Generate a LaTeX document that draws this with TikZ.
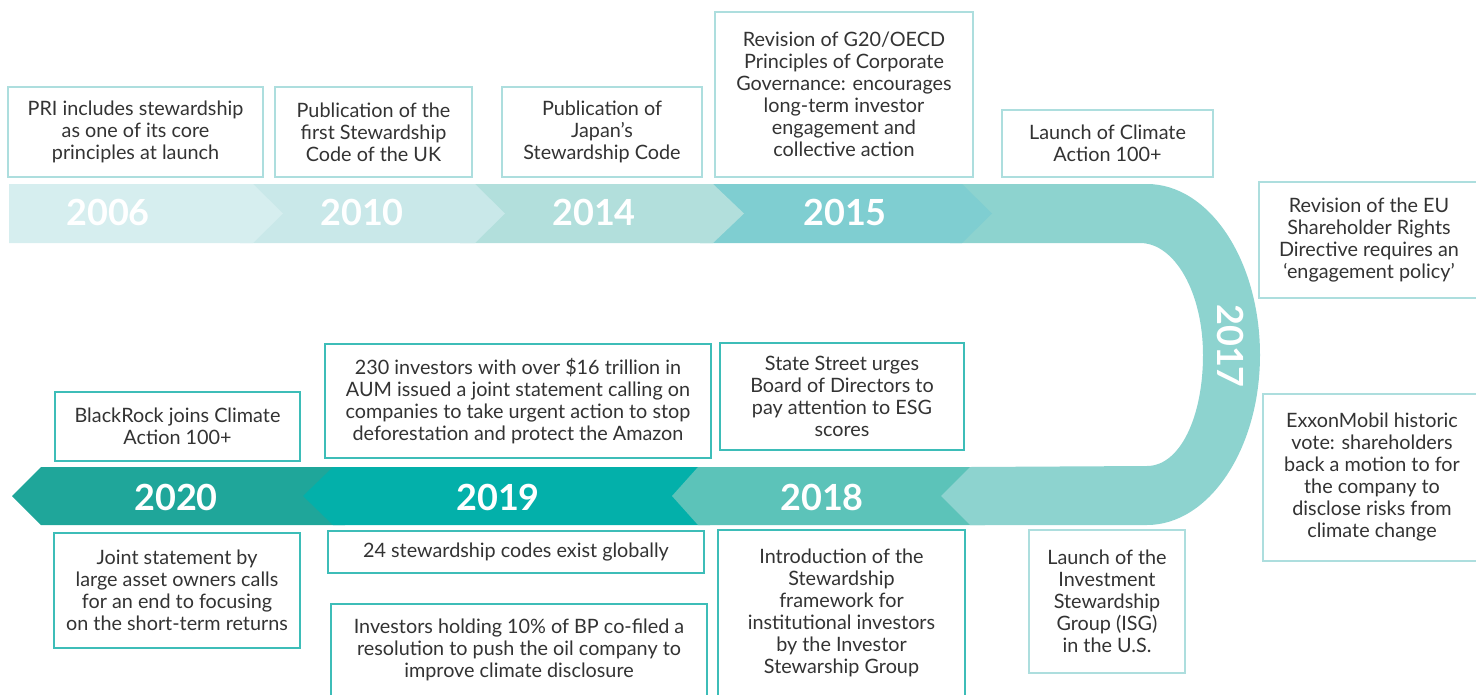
\documentclass[tikz,border=0pt]{standalone}
\usepackage{fontspec}
\setmainfont{Lato}

\definecolor{yrsix}{HTML}{D6EEEF}
\definecolor{yrten}{HTML}{C9E8E9}
\definecolor{yrfourteen}{HTML}{B2DFDC}
\definecolor{yrfifteen}{HTML}{7FCED1}
\definecolor{yrseventeen}{HTML}{8DD3CF}
\definecolor{yreighteen}{HTML}{5CC3B9}
\definecolor{yrnineteen}{HTML}{03B0AA}
\definecolor{yrtwenty}{HTML}{1FA69A}
\definecolor{boxlight}{HTML}{ADDEDE}
\definecolor{boxteal}{HTML}{3DBDB8}
\definecolor{txtgray}{HTML}{333333}

\tikzset{
  event/.style={draw=boxlight, line width=1.3pt, fill=white, align=center, inner sep=0pt,
    text=txtgray, font=\fontsize{19.8}{22}\selectfont},
  eventdark/.style={event, draw=boxteal},
  year/.style={text=white, font=\fontsize{36}{40}\selectfont\bfseries},
}

\begin{document}
\begin{tikzpicture}[x=1pt,y=-1pt]
\useasboundingbox (0,0) rectangle (1476,694);
\clip (0,0) rectangle (1476,694);

% bottom row, arrows point left
\fill[yrtwenty] (12,496) -- (41,467) -- (345,467) -- (345,525) -- (41,525) -- cycle;
\fill[yrnineteen] (303,496) -- (333,467) -- (710,467) -- (710,525) -- (333,525) -- cycle;
\fill[yreighteen] (672,496) -- (698,467) -- (985,467) -- (985,525) -- (698,525) -- cycle;

% the bend (2017)
\fill[yrseventeen] (950,184) -- (1147,184)
  .. controls (1209,184) and (1260,260) .. (1260,355)
  .. controls (1260,449) and (1209,525) .. (1147,525)
  -- (970,525) -- (941,496) -- (970,467) -- (1147,466)
  .. controls (1180,466) and (1203,417) .. (1203,355)
  .. controls (1203,293) and (1175,243) .. (1140,243)
  -- (950,243) -- cycle;

% top row, arrows point right
\fill[yrfifteen] (700,184) -- (962,184) -- (992,213.5) -- (962,243) -- (700,243) -- cycle;
\fill[yrfourteen] (460,184) -- (713,184) -- (744,213.5) -- (713,243) -- (460,243) -- cycle;
\fill[yrten] (240,184) -- (475,184) -- (505,213.5) -- (475,243) -- (240,243) -- cycle;
\fill[yrsix] (9,184) -- (253,184) -- (283,213.5) -- (253,243) -- (9,243) -- cycle;

% years
\node[year] (y2006) at (108,212) {2006};
\node[year] (y2010) at (362,212) {2010};
\node[year] (y2014) at (594,212) {2014};
\node[year] (y2015) at (845,212) {2015};
\node[year, rotate=-90] (y2017) at (1231,346) {2017};
\node[year] (y2018) at (822,497) {2018};
\node[year] (y2019) at (498,497) {2019};
\node[year] (y2020) at (176,497) {2020};

% events above the top row
\node[event, minimum width=255pt, minimum height=90pt] (pri) at (135.5,132)
  {PRI includes stewardship\\as one of its core\\principles at launch};
\node[event, minimum width=197pt, minimum height=90pt] (ukcode) at (373.5,132)
  {Publication of the\\first Stewardship\\Code of the UK};
\node[event, minimum width=200pt, minimum height=90pt] (japan) at (602,132)
  {Publication of\\Japan’s\\Stewardship Code};
\node[event, minimum width=258pt, minimum height=165pt] (gtwenty) at (844,94.5)
  {Revision of G20/OECD\\Principles of Corporate\\Governance: encourages\\long-term investor\\engagement and\\collective action};
\node[event, minimum width=211pt, minimum height=67pt] (launchca) at (1107.5,143.5)
  {Launch of Climate\\Action 100+};

% events beside the bend
\node[event, minimum width=220pt, minimum height=116pt] (eusrd) at (1369,240)
  {Revision of the EU\\Shareholder Rights\\Directive requires an\\‘engagement policy’};
\node[event, minimum width=218pt, minimum height=167pt] (exxon) at (1372,477.5)
  {ExxonMobil historic\\vote: shareholders\\back a motion to for\\the company to\\disclose risks from\\climate change};
\node[event, minimum width=156pt, minimum height=143pt] (isg) at (1107,601.5)
  {Launch of the\\Investment\\Stewardship\\Group (ISG)\\in the U.S.};

% events above the bottom row
\node[eventdark, minimum width=245pt, minimum height=69pt] (blackrock) at (177.5,426.5)
  {BlackRock joins Climate\\Action 100+};
\node[eventdark, minimum width=386pt, minimum height=114pt] (amazon) at (518,401)
  {230 investors with over \$16 trillion in\\AUM issued a joint statement calling on\\companies to take urgent action to stop\\deforestation and protect the Amazon};
\node[eventdark, minimum width=244pt, minimum height=107pt] (statest) at (842,396.5)
  {State Street urges\\Board of Directors to\\pay attention to ESG\\scores};

% events below the bottom row
\node[eventdark, minimum width=246pt, minimum height=115pt] (jointst) at (177,590.5)
  {Joint statement by\\large asset owners calls\\for an end to focusing\\on the short-term returns};
\node[eventdark, minimum width=376pt, minimum height=42pt] (codes) at (516,552)
  {24 stewardship codes exist globally};
\node[eventdark, minimum width=376pt, minimum height=92pt] (bp) at (519,650)
  {Investors holding 10\% of BP co-filed a\\resolution to push the oil company to\\improve climate disclosure};
\node[eventdark, minimum width=247pt, minimum height=166pt] (intro) at (841.5,613)
  {Introduction of the\\Stewardship\\framework for\\institutional investors\\by the Investor\\Stewarship Group};

\end{tikzpicture}
\end{document}
